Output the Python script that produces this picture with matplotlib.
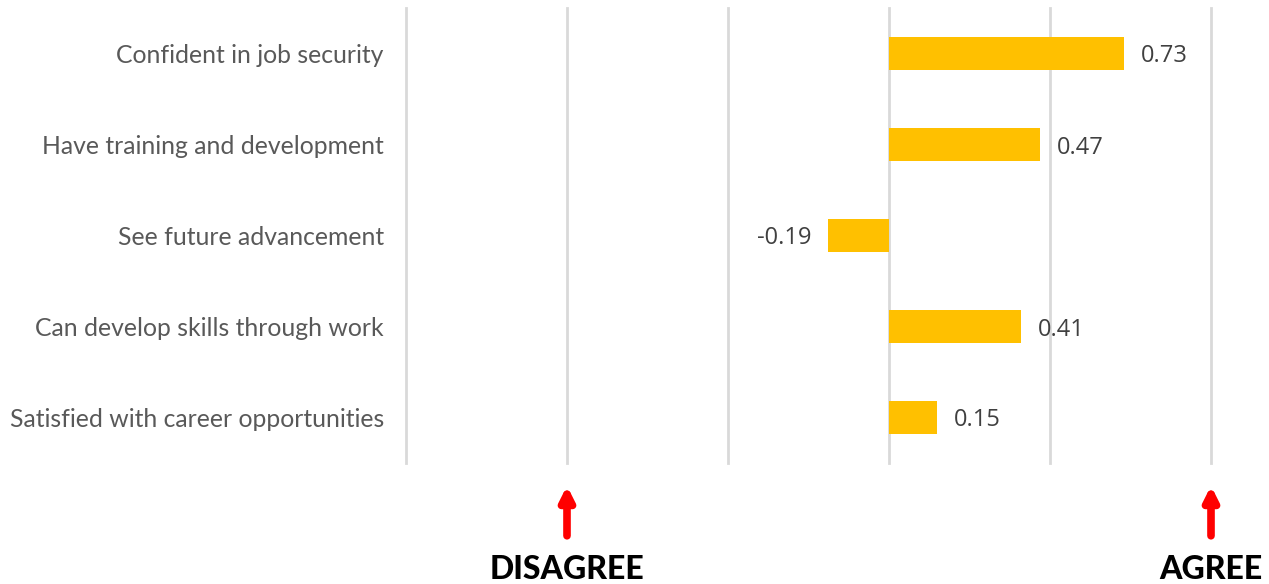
import matplotlib
matplotlib.use('Agg')
from matplotlib import pyplot as plt
from matplotlib import transforms

# survey items, top to bottom, and their mean agreement score
items = ['Confident in job security',
         'Have training and development',
         'See future advancement',
         'Can develop skills through work',
         'Satisfied with career opportunities']
scores = [0.73, 0.47, -0.19, 0.41, 0.15]

grid_ticks = [-1.5, -1.0, -0.5, 0.0, 0.5, 1.0]
ends = [(-1.0, 'DISAGREE'), (1.0, 'AGREE')]

fig = plt.figure(figsize=(12.69, 5.84), dpi=100)
ax = fig.add_axes([406 / 1269, 1 - 463 / 584, (1211 - 406) / 1269, (463 - 8) / 584])

ypos = list(range(len(items)))[::-1]
ax.barh(ypos, scores, height=0.36, color='#FFC000', zorder=3)

for y, v in zip(ypos, scores):
    off, ha = (12, 'left') if v >= 0 else (-12, 'right')
    ax.annotate(f'{v:.2f}', (v, y), xytext=(off, 0), textcoords='offset points',
                ha=ha, va='center_baseline', fontsize=17, color='#404040',
                family='Open Sans')

ax.set_xlim(-1.5, 1.0)
ax.set_ylim(-0.5, len(items) - 0.5)
ax.set_xticks([])
for g in grid_ticks:
    ax.axvline(g, color='#d9d9d9', linewidth=2, zorder=0, clip_on=False)
ax.set_yticks(ypos)
ax.set_yticklabels(items, fontsize=17.8, color='#595959', family='Lato')
ax.tick_params(axis='both', length=0)
ax.tick_params(axis='y', pad=16)
for s in ax.spines.values():
    s.set_visible(False)

# direction markers under the axis
trans = transforms.blended_transform_factory(ax.transData, ax.transAxes)
for x, label in ends:
    ax.annotate('', xy=(x, -0.05), xytext=(x, -0.16), xycoords=trans, textcoords=trans,
                arrowprops=dict(arrowstyle='-|>,head_length=0.8,head_width=0.4',
                                color='#ff0000', lw=5.5, shrinkA=0, shrinkB=0),
                annotation_clip=False)
    ax.text(x, -0.255, label, transform=trans, ha='center', va='baseline',
            fontsize=23, fontweight='black', family='Lato', color='black')

fig.savefig('out.png', dpi=100)
